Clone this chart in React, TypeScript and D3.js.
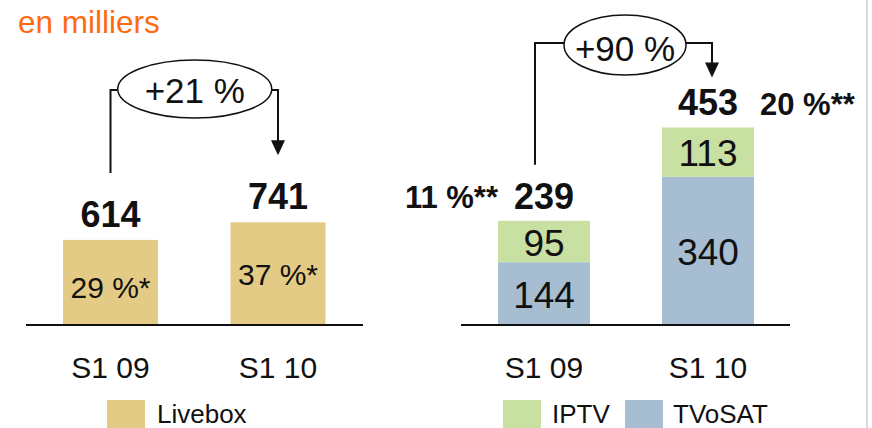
import React from "react";
import * as d3 from "d3";

const categories = ["S1 09", "S1 10"];
const livebox = [614, 741];
const liveboxShare = ["29 %*", "37 %*"];
const tvosat = [144, 340];
const iptv = [95, 113];
const tvShare = ["11 %**", "20 %**"];
const growth = ["+21 %", "+90 %"];
const legendLeft = ["Livebox"];
const legendRight = ["IPTV", "TVoSAT"];

const W = 872;
const H = 428;
const BASE = 325;

const C_LIVEBOX = "#E3CB85";
const C_IPTV = "#C9E0A3";
const C_TVOSAT = "#A6BDD2";
const ORANGE = "#FF6A0F";

const LIGHT = "'Liberation Sans', Arial, sans-serif";
const BOLD = "'Liberation Sans', Arial, sans-serif";

export default function App() {
  const xL = d3
    .scaleBand<string>()
    .domain(categories)
    .range([26, 362.5])
    .paddingInner(0.433)
    .paddingOuter(0.221);
  const yL = d3.scaleLinear().domain([0, 1000]).range([BASE, BASE - 138.6]);

  const xR = d3
    .scaleBand<string>()
    .domain(categories)
    .range([461, 791])
    .paddingInner(0.439)
    .paddingOuter(0.2256);
  const yR = d3.scaleLinear().domain([0, 1000]).range([BASE, BASE - 436]);

  const stackData = categories.map((c, i) => ({ cat: c, tvosat: tvosat[i], iptv: iptv[i] }));
  const stack = d3.stack<any>().keys(["tvosat", "iptv"])(stackData);
  const colors: Record<string, string> = { tvosat: C_TVOSAT, iptv: C_IPTV };
  const totals = categories.map((_, i) => tvosat[i] + iptv[i]);

  const cL = (c: string) => (xL(c) as number) + xL.bandwidth() / 2;
  const cR = (c: string) => (xR(c) as number) + xR.bandwidth() / 2;

  // left annotation
  const la1 = cL(categories[0]);
  const la2 = cL(categories[1]);
  const laY = 90;
  const laCx = (la1 + la2) / 2 + 0.5;
  const laRx = 77;
  const laRy = 29;
  const laBottom1 = yL(livebox[0]) - 67;
  const laTip = yL(livebox[1]) - 67;

  // right annotation
  const ra1 = cR(categories[0]) - 9;
  const ra2 = cR(categories[1]) + 4;
  const raY = 43;
  const raCx = 625;
  const raRx = 61;
  const raRy = 30;
  const raBottom1 = yR(totals[0]) - 56;
  const raTip = yR(totals[1]) - 50;

  const arrow = (x: number, tip: number) =>
    `M${x - 7},${tip - 15} L${x + 7},${tip - 15} L${x},${tip} Z`;

  const txt = "#111";

  return (
    <svg
      width={W}
      height={H}
      style={{ position: "absolute", left: 0, top: 0, background: "#fff" }}
    >
      <rect x={0} y={0} width={W} height={H} fill="#fff" />
      <line x1={867} x2={867} y1={0} y2={H} stroke="#d9d9d9" strokeWidth={2} />

      <text x={18} y={33} fill={ORANGE} fontFamily={LIGHT} fontSize={31.5}>
        en milliers
      </text>

      {/* Left panel */}
      {categories.map((c, i) => (
        <g key={"lb" + c}>
          <rect
            x={xL(c)}
            y={yL(livebox[i])}
            width={xL.bandwidth()}
            height={BASE - yL(livebox[i])}
            fill={C_LIVEBOX}
          />
          <text
            x={cL(c)}
            y={(yL(livebox[i]) + BASE) / 2 + 11 + (i === 0 ? 5 : 0)}
            textAnchor="middle"
            fontFamily={LIGHT}
            fontSize={30}
            fill={txt}
          >
            {liveboxShare[i]}
          </text>
          <text
            x={cL(c)}
            y={yL(livebox[i]) - 13}
            textAnchor="middle"
            fontFamily={BOLD}
            fontWeight={700}
            fontSize={36}
            fill={txt}
          >
            {livebox[i]}
          </text>
          <text
            x={cL(c)}
            y={378}
            textAnchor="middle"
            fontFamily={LIGHT}
            fontSize={30}
            fill={txt}
          >
            {c}
          </text>
        </g>
      ))}
      <line x1={26} x2={363} y1={BASE} y2={BASE} stroke="#111" strokeWidth={2} />

      {/* Left growth annotation */}
      <path
        d={`M${la1},${laBottom1} L${la1},${laY} L${laCx - laRx},${laY}`}
        fill="none"
        stroke="#111"
        strokeWidth={2}
      />
      <path
        d={`M${laCx + laRx},${laY} L${la2},${laY} L${la2},${laTip - 14}`}
        fill="none"
        stroke="#111"
        strokeWidth={2}
      />
      <path d={arrow(la2, laTip)} fill="#111" />
      <ellipse cx={laCx} cy={laY - 1} rx={laRx} ry={laRy} fill="#fff" stroke="#111" strokeWidth={1.5} />
      <text
        x={laCx}
        y={103}
        textAnchor="middle"
        fontFamily={LIGHT}
        fontSize={35}
        fill={txt}
      >
        {growth[0]}
      </text>

      {/* Right panel */}
      {stack.map((layer) =>
        layer.map((d, i) => {
          const c = categories[i];
          const y0 = yR(d[1]);
          const y1 = yR(d[0]);
          return (
            <g key={layer.key + c}>
              <rect x={xR(c)} y={y0} width={xR.bandwidth()} height={y1 - y0} fill={colors[layer.key]} />
              <text
                x={cR(c)}
                y={(y0 + y1) / 2 + 14}
                textAnchor="middle"
                fontFamily={LIGHT}
                fontSize={37}
                fill={txt}
              >
                {d[1] - d[0]}
              </text>
            </g>
          );
        })
      )}
      {categories.map((c, i) => (
        <g key={"tot" + c}>
          <text
            x={cR(c)}
            y={yR(totals[i]) - 12}
            textAnchor="middle"
            fontFamily={BOLD}
            fontWeight={700}
            fontSize={36}
            fill={txt}
          >
            {totals[i]}
          </text>
          <text
            x={i === 0 ? cR(c) - 46 : cR(c) + 52}
            y={yR(totals[i]) - (i === 0 ? 13 : 12)}
            textAnchor={i === 0 ? "end" : "start"}
            fontFamily={BOLD}
            fontWeight={700}
            fontSize={31}
            fill={txt}
          >
            {tvShare[i]}
          </text>
          <text
            x={cR(c)}
            y={378}
            textAnchor="middle"
            fontFamily={LIGHT}
            fontSize={30}
            fill={txt}
          >
            {c}
          </text>
        </g>
      ))}
      <line x1={461} x2={790} y1={BASE} y2={BASE} stroke="#111" strokeWidth={2} />

      {/* Right growth annotation */}
      <path
        d={`M${ra1},${raBottom1} L${ra1},${raY} L${raCx - raRx},${raY}`}
        fill="none"
        stroke="#111"
        strokeWidth={2}
      />
      <path
        d={`M${raCx + raRx},${raY} L${ra2},${raY} L${ra2},${raTip - 14}`}
        fill="none"
        stroke="#111"
        strokeWidth={2}
      />
      <path d={arrow(ra2, raTip)} fill="#111" />
      <ellipse cx={raCx} cy={45} rx={raRx} ry={raRy} fill="#fff" stroke="#111" strokeWidth={1.5} />
      <text
        x={raCx}
        y={61}
        textAnchor="middle"
        fontFamily={LIGHT}
        fontSize={35}
        fill={txt}
      >
        {growth[1]}
      </text>

      {/* Legends */}
      <rect x={107} y={400} width={38} height={30} fill={C_LIVEBOX} />
      <text x={157} y={423} fontFamily={LIGHT} fontSize={26} fill={txt}>
        {legendLeft[0]}
      </text>
      <rect x={503} y={400} width={38} height={30} fill={C_IPTV} />
      <text x={552} y={423} fontFamily={LIGHT} fontSize={26} fill={txt}>
        {legendRight[0]}
      </text>
      <rect x={625} y={400} width={38} height={30} fill={C_TVOSAT} />
      <text x={673} y={423} fontFamily={LIGHT} fontSize={26} fill={txt}>
        {legendRight[1]}
      </text>
    </svg>
  );
}
